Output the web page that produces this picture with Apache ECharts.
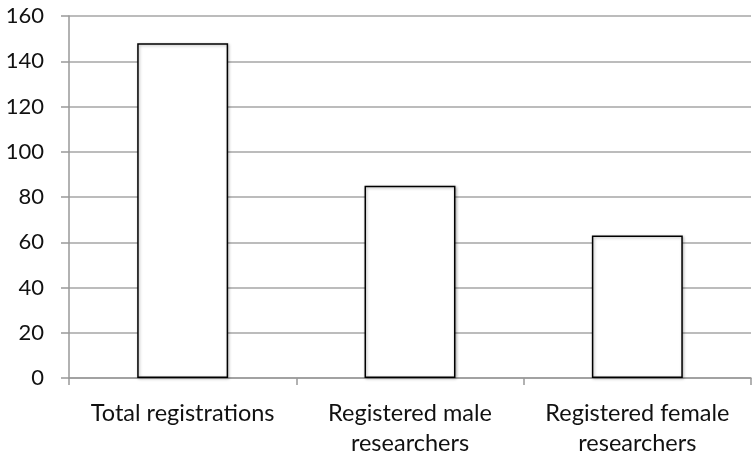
<!DOCTYPE html>
<html>
<head>
<meta charset="utf-8">
<script src="https://cdn.jsdelivr.net/npm/echarts@6/dist/echarts.min.js"></script>
<style>
html,body{margin:0;padding:0;background:#fff;}
#chart{width:755px;height:459px;}
</style>
</head>
<body>
<div id="chart"></div>
<script>
var categories = ['Total registrations', 'Registered male\nresearchers', 'Registered female\nresearchers'];
var values = [148, 85, 63];
var yMin = 0, yMax = 160, yInterval = 20;

var chart = echarts.init(document.getElementById('chart'), null, {renderer: 'canvas'});
chart.setOption({
  animation: false,
  backgroundColor: '#ffffff',
  grid: {left: 69, right: 4, top: 16, bottom: 81, containLabel: false},
  xAxis: {
    type: 'category',
    data: categories,
    axisLine: {show: true, lineStyle: {color: '#999999', width: 1.5}},
    axisTick: {show: true, length: 7, lineStyle: {color: '#999999', width: 1.5}},
    axisLabel: {
      color: '#111111', fontFamily: 'Lato', fontSize: 23.5, lineHeight: 30, margin: 20, interval: 0
    },
    splitLine: {show: false}
  },
  yAxis: {
    type: 'value',
    min: yMin, max: yMax, interval: yInterval,
    axisLine: {show: true, lineStyle: {color: '#999999', width: 1.5}},
    axisTick: {show: true, length: 8, lineStyle: {color: '#999999', width: 1.5}},
    axisLabel: {color: '#111111', fontFamily: 'Lato', fontSize: 22, margin: 25},
    splitLine: {show: true, lineStyle: {color: '#a6a6a6', width: 1.5}}
  },
  series: [{
    type: 'bar',
    data: values,
    barWidth: '40%',
    itemStyle: {
      color: '#ffffff',
      borderColor: '#000000',
      borderWidth: 1.5,
      shadowBlur: 3,
      shadowOffsetX: 1,
      shadowOffsetY: 1,
      shadowColor: 'rgba(0,0,0,0.3)'
    }
  }]
});
</script>
</body>
</html>
